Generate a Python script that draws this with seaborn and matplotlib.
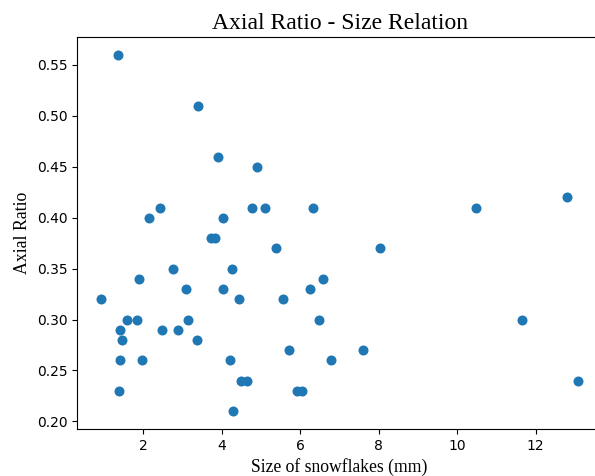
import matplotlib
matplotlib.use("Agg")
import matplotlib.pyplot as plt
import seaborn as sns
import pandas as pd

size_mm = [0.92, 1.35, 1.37, 1.41, 1.45, 1.42, 1.59, 1.85, 1.89, 1.97,
           2.15, 2.43, 2.48, 2.75, 2.89, 3.09, 3.14, 3.36, 3.40, 3.72,
           3.84, 3.91, 4.03, 4.04, 4.21, 4.26, 4.28, 4.43, 4.49, 4.65,
           4.77, 4.90, 5.10, 5.38, 5.55, 5.71, 5.91, 6.05, 6.24, 6.32,
           6.48, 6.57, 6.78, 7.61, 8.03, 10.47, 11.65, 12.79, 13.08]
axial_ratio = [0.32, 0.56, 0.23, 0.29, 0.28, 0.26, 0.30, 0.30, 0.34, 0.26,
               0.40, 0.41, 0.29, 0.35, 0.29, 0.33, 0.30, 0.28, 0.51, 0.38,
               0.38, 0.46, 0.40, 0.33, 0.26, 0.35, 0.21, 0.32, 0.24, 0.24,
               0.41, 0.45, 0.41, 0.37, 0.32, 0.27, 0.23, 0.23, 0.33, 0.41,
               0.30, 0.34, 0.26, 0.27, 0.37, 0.41, 0.30, 0.42, 0.24]

df = pd.DataFrame({"size": size_mm, "ratio": axial_ratio})

fig = plt.figure(figsize=(5.95, 4.76), dpi=100)
ax = fig.add_axes([77 / 595, 47 / 476, 525 / 595, 392 / 476])
sns.scatterplot(data=df, x="size", y="ratio", ax=ax, color="#1f77b4",
                s=52, linewidth=0)
ax.set_title("Axial Ratio - Size Relation", family="Liberation Serif", fontsize=17)
ax.set_xlabel("Size of snowflakes (mm)", family="Liberation Serif", fontsize=12.7)
ax.set_ylabel("Axial Ratio", family="Liberation Serif", fontsize=12.8)
fig.savefig("out.png", dpi=100)
